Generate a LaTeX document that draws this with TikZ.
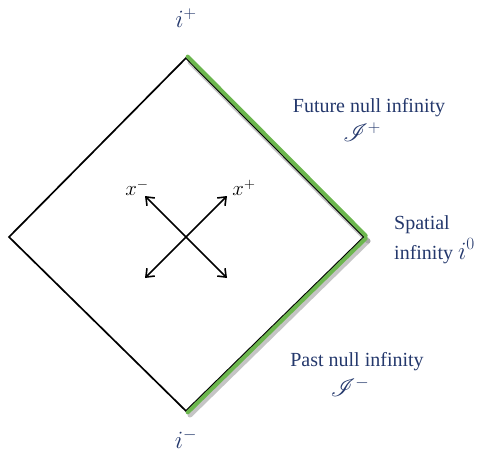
\documentclass[tikz,border=0pt]{standalone}
\usepackage{mathrsfs}
\usepackage{fontspec}
\setmainfont{Liberation Serif}
\usetikzlibrary{arrows.meta,calc}
\definecolor{navy}{RGB}{36,56,108}
\definecolor{nullgreen}{RGB}{108,182,78}
\begin{document}
\begin{tikzpicture}[x=1pt,y=-1pt,
  lbl/.style={text=navy,font=\fontsize{20}{24}\selectfont,inner sep=0pt},
  mlbl/.style={text=navy,font=\fontsize{24}{26}\selectfont,inner sep=0pt},
  xlbl/.style={text=black,font=\fontsize{22}{24}\selectfont,inner sep=0pt},
  edge/.style={line width=1.7pt,black},
  nullgreen line/.style={line width=4pt,nullgreen,line cap=round},
  shadowline/.style={line width=5pt,black!45,opacity=0.5,line cap=round},
  axis/.style={line width=1.6pt,{Straight Barb[length=7pt,width=11pt]}-{Straight Barb[length=7pt,width=11pt]}}]
\useasboundingbox (0,0) rectangle (477,455);
\coordinate (T) at (186,58);
\coordinate (R) at (364,237);
\coordinate (B) at (186,411);
\coordinate (L) at (9,237);
% shadows
\draw[shadowline] ($(T)+(4,4)$) -- ($(R)+(4,4)$);
\draw[shadowline] ($(R)+(4,4)$) -- ($(B)+(4,4)$);
\draw[edge] (T) -- (R) -- (B) -- (L) -- cycle;
\draw[nullgreen line] ($(T)+(1.7,-1.4)$) -- ($(R)+(1.7,-1.4)$);
\draw[nullgreen line] ($(R)+(1.7,1.4)$) -- ($(B)+(1.7,1.4)$);
% axes
\coordinate (a1) at (145,278);
\coordinate (a2) at (227,196);
\coordinate (b1) at (145,196);
\coordinate (b2) at (227,278);
\draw[axis] (a1) -- (a2);
\draw[axis] (b1) -- (b2);
\node[xlbl] (xm) at (137,188) {$x^{-}$};
\node[xlbl] (xp) at (244,188) {$x^{+}$};
% labels
\node[mlbl] (ip) at (186,18) {$i^{+}$};
\node[mlbl] (im) at (186,439) {$i^{-}$};
\node[lbl] (fni) at (369,108) {Future null infinity};
\node[mlbl] (jp) at (362,132) {$\mathscr{I}^{+}$};
\node[lbl,anchor=base west] (sp1) at (394,229) {Spatial};
\node[lbl,anchor=base west] (sp2) at (394,259) {infinity \fontsize{24}{26}\selectfont$i^{0}$};
\node[lbl] (pni) at (357,362) {Past null infinity};
\node[mlbl] (jm) at (350,387) {$\mathscr{I}^{-}$};
\end{tikzpicture}
\end{document}
